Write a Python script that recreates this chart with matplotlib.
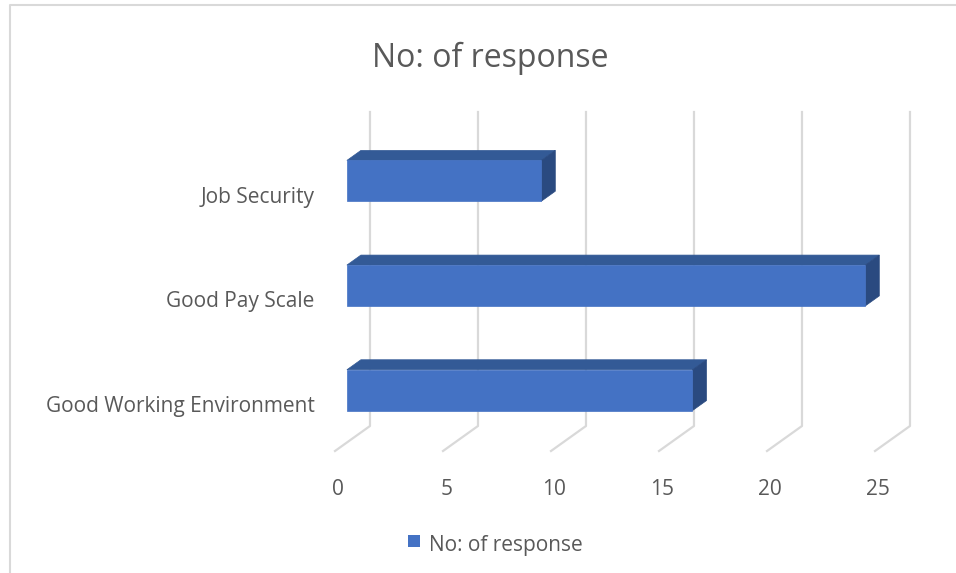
import matplotlib.pyplot as plt
from matplotlib.patches import Polygon
from matplotlib.lines import Line2D

# Survey counts per reason
categories = ["Good Working Environment", "Good Pay Scale", "Job Security"]
responses = [16, 24, 9]
ticks = [0, 5, 10, 15, 20, 25]
series_name = "No: of response"

FONT = ["Open Sans", "DejaVu Sans"]
TEXT = "#595959"
GRID = "#d9d9d9"
FRONT = "#4472c4"
TOP = "#335a96"
SIDE = "#2a4a80"

# depth of the 3D box in data units (x in values, y in category slots)
DX, DY = 1.62, 0.239
BAR_H = 0.39
D0, D1 = 0.34, 0.74


def proj(x, y, d):
    return (x + d * DX, y + d * DY)


fig = plt.figure(figsize=(9.56, 5.73), dpi=100)
ax = fig.add_axes([335 / 956, (573 - 451) / 573, 540 / 956, 314 / 573])
ax.set_xlim(0, 25)
ax.set_ylim(-0.5, 2.5)
ax.axis("off")

# floor diagonals + back wall gridlines
for t in ticks:
    p0 = proj(t, -0.5, 0)
    p1 = proj(t, -0.5, 1)
    p2 = proj(t, 2.5, 1)
    ax.add_line(Line2D([p0[0], p1[0], p2[0]], [p0[1], p1[1], p2[1]],
                       color=GRID, lw=1.6, clip_on=False, zorder=1))
    ax.text(t + 0.15, -0.87, str(t), ha="center", va="center",
            fontsize=15, color=TEXT, family=FONT)

# 3D bars
for i, v in enumerate(responses):
    y0, y1 = i - BAR_H / 2, i + BAR_H / 2
    front = [proj(0, y0, D0), proj(v, y0, D0), proj(v, y1, D0), proj(0, y1, D0)]
    top = [proj(0, y1, D0), proj(v, y1, D0), proj(v, y1, D1), proj(0, y1, D1)]
    side = [proj(v, y0, D0), proj(v, y0, D1), proj(v, y1, D1), proj(v, y1, D0)]
    for pts, c in ((top, TOP), (side, SIDE), (front, FRONT)):
        ax.add_patch(Polygon(pts, closed=True, facecolor=c, edgecolor=c,
                             lw=0.5, clip_on=False, zorder=3))
    ax.text(-0.95, i - 0.075, categories[i], ha="right", va="center",
            fontsize=15, color=TEXT, family=FONT)

fig.text(490 / 956, 1 - 58 / 573, series_name, ha="center", va="center",
         fontsize=23, color=TEXT, family=FONT)

# legend
fig.patches.append(plt.Rectangle((408 / 956, 1 - 547 / 573), 12 / 956, 12 / 573,
                                 transform=fig.transFigure, facecolor=FRONT,
                                 edgecolor="none"))
fig.text(429 / 956, 1 - 545 / 573, series_name, ha="left", va="center",
         fontsize=15, color=TEXT, family=FONT)

# chart area border (top and left edges visible)
fig.add_artist(Line2D([10 / 956, 10 / 956, 1], [0, 1 - 5 / 573, 1 - 5 / 573],
                      transform=fig.transFigure, color=GRID, lw=1.5))

fig.savefig("out.png", dpi=100, facecolor="white")
